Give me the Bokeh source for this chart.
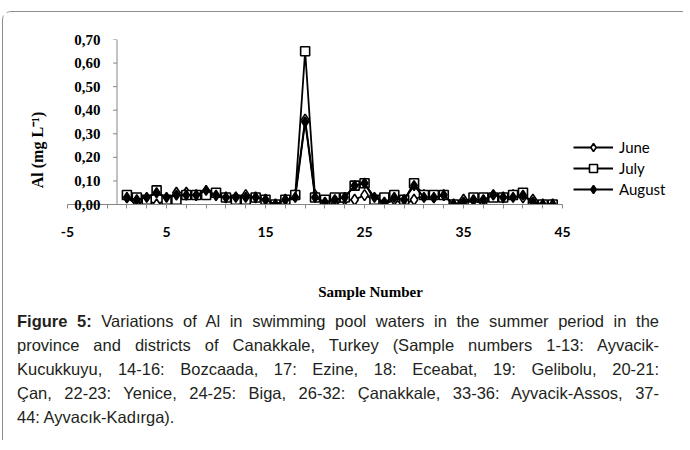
from bokeh.plotting import figure
from bokeh.models import (FixedTicker, CustomJSTickFormatter, Legend, LegendItem,
                          Div, Range1d, Span)
from bokeh.layouts import column
from bokeh.embed import file_html
from bokeh.resources import INLINE

samples = list(range(1, 45))
june = [0.03, 0.00, 0.02, 0.00, 0.02, 0.05, 0.05, 0.04, 0.05, 0.04,
        0.03, 0.03, 0.04, 0.03, 0.02, 0.00, 0.02, 0.04, 0.36, 0.04,
        0.00, 0.00, 0.02, 0.02, 0.04, 0.02, 0.00, 0.02, 0.00, 0.02,
        0.04, 0.03, 0.04, 0.00, 0.02, 0.02, 0.00, 0.04, 0.03, 0.04,
        0.03, 0.02, 0.00, 0.00]
july = [0.04, 0.03, 0.02, 0.06, 0.02, 0.02, 0.04, 0.04, 0.04, 0.05,
        0.03, 0.02, 0.02, 0.03, 0.02, 0.00, 0.02, 0.04, 0.65, 0.03,
        0.02, 0.03, 0.03, 0.08, 0.09, 0.02, 0.03, 0.04, 0.02, 0.09,
        0.04, 0.04, 0.04, 0.00, 0.00, 0.03, 0.03, 0.03, 0.03, 0.04,
        0.05, 0.00, 0.00, 0.00]
august = [0.03, 0.02, 0.03, 0.05, 0.03, 0.04, 0.04, 0.04, 0.06, 0.04,
          0.03, 0.03, 0.03, 0.03, 0.02, 0.00, 0.02, 0.03, 0.35, 0.03,
          0.01, 0.02, 0.03, 0.08, 0.09, 0.03, 0.01, 0.03, 0.02, 0.08,
          0.03, 0.03, 0.04, 0.00, 0.01, 0.02, 0.02, 0.04, 0.03, 0.03,
          0.04, 0.01, 0.00, 0.00]
series_names = ["June", "July", "August"]
y_ticks = [0.0, 0.1, 0.2, 0.3, 0.4, 0.5, 0.6, 0.7]
x_ticks = list(range(-5, 46, 2))
x_tick_labels = [-5, 5, 15, 25, 35, 45]
caption_lines = [
    "<b>Figure 5:</b> Variations of Al in swimming pool waters in the summer period in the",
    "province and districts of Canakkale, Turkey (Sample numbers 1-13: Ayvacik-",
    "Kucukkuyu, 14-16: Bozcaada, 17: Ezine, 18: Eceabat, 19: Gelibolu, 20-21:",
    "Çan, 22-23: Yenice, 24-25: Biga, 26-32: Çanakkale, 33-36: Ayvacik-Assos, 37-",
    "44: Ayvacık-Kadırga).",
]

AXIS_GREY = "#868686"
SERIF = "Liberation Serif"
Y_AXIS_AT = 0          # vertical axis crosses the horizontal one at x = 0
TICK_LEN = 0.4         # length of the y tick marks, in x units (~4 px)

# the plot area also holds the legend on the right; the x axis is bounded to -5..45
p = figure(width=670, height=292, x_range=Range1d(-5, 56.2), y_range=Range1d(0, 0.7),
           output_backend="svg", toolbar_location=None,
           min_border_left=64, min_border_right=0, min_border_top=27,
           min_border_bottom=100, background_fill_color="white",
           border_fill_color="white", outline_line_color=None)
p.grid.visible = False

# y axis: labels drawn by the left axis, shifted into the plot next to x = 0
p.yaxis.ticker = FixedTicker(ticks=y_ticks)
p.yaxis.formatter = CustomJSTickFormatter(code="return tick.toFixed(2).replace('.', ',');")
p.yaxis.axis_label = "Al  (mg L\u207b\u00b9)" + "\u00a0" * 13
p.yaxis.axis_label_text_font = SERIF
p.yaxis.axis_label_text_font_style = "bold"
p.yaxis.axis_label_text_font_size = "16px"
p.yaxis.axis_label_text_color = "black"
p.yaxis.axis_label_standoff = 25
p.yaxis.major_label_text_font = SERIF
p.yaxis.major_label_text_font_style = "bold"
p.yaxis.major_label_text_font_size = "15px"
p.yaxis.major_label_text_color = "black"
p.yaxis.major_label_standoff = -39
p.yaxis.axis_line_color = None
p.yaxis.major_tick_line_color = None
p.yaxis.minor_tick_line_color = None

# vertical axis line and its tick marks at x = 0
p.add_layout(Span(location=Y_AXIS_AT, dimension="height", line_color=AXIS_GREY,
                  line_width=1))
p.segment(x0=[Y_AXIS_AT] * len(y_ticks), x1=[Y_AXIS_AT - TICK_LEN] * len(y_ticks),
          y0=y_ticks, y1=y_ticks, line_color=AXIS_GREY, line_width=1)

# x axis
p.xaxis.ticker = FixedTicker(ticks=x_ticks)
p.xaxis.bounds = (x_ticks[0], x_ticks[-1])
p.xaxis.formatter = CustomJSTickFormatter(
    args=dict(labels=x_tick_labels),
    code="return labels.includes(tick) ? String(tick) : '';")
p.xaxis.axis_label = "Sample Number"
p.xaxis.axis_label_text_font = SERIF
p.xaxis.axis_label_text_font_style = "bold"
p.xaxis.axis_label_text_font_size = "15px"
p.xaxis.axis_label_text_color = "black"
p.xaxis.axis_label_standoff = 44
p.xaxis.major_label_text_font = "Lato"
p.xaxis.major_label_text_font_style = "bold"
p.xaxis.major_label_text_font_size = "14px"
p.xaxis.major_label_text_color = "black"
p.xaxis.major_label_standoff = 18
p.xaxis.minor_tick_line_color = None
p.xaxis.axis_line_color = AXIS_GREY
p.xaxis.major_tick_line_color = AXIS_GREY
p.xaxis.major_tick_out = 4
p.xaxis.major_tick_in = 0

styles = [
    dict(marker="diamond", fill="white", size=11),
    dict(marker="square", fill="white", size=9),
    dict(marker="diamond", fill="black", size=10),
]
items = []
for name, vals, st in zip(series_names, [june, july, august], styles):
    lr = p.line(samples, vals, line_color="black", line_width=1.8)
    sr = p.scatter(samples, vals, marker=st["marker"], size=st["size"],
                   fill_color=st["fill"], line_color="black", line_width=1.6)
    items.append(LegendItem(label=name, renderers=[lr, sr]))

legend = Legend(items=items, location=(506, 5), padding=0, margin=0,
                glyph_width=40, glyph_height=20, spacing=1, label_standoff=6,
                label_text_font="Lato", label_text_font_size="15px",
                label_text_color="black", background_fill_alpha=0,
                border_line_color=None)
p.add_layout(legend)

lines_html = "".join(
    f'<div style="text-align:justify;text-align-last:justify;">{ln}</div>'
    for ln in caption_lines[:-1]
) + f'<div style="text-align:left;">{caption_lines[-1]}</div>'
caption = Div(
    text=f'<div style="font-family:\'Liberation Sans\',Arial,sans-serif;font-size:16.5px;'
         f'line-height:24px;color:#231f20;width:651px;padding-left:9px;">{lines_html}</div>',
    width=670, height=126)

layout = column(p, caption, margin=(11, 0, 0, 2),
                styles={"border-top": "1px solid #8c8c8c",
                        "border-left": "1px solid #8c8c8c",
                        "border-top-left-radius": "9px"})

open("out.html", "w").write(file_html(layout, INLINE))
